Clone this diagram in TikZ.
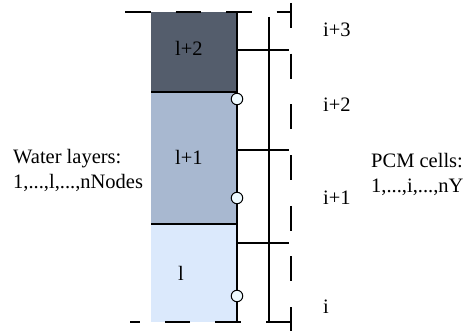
\documentclass[tikz,border=0pt]{standalone}
\usepackage{fontspec}
\setmainfont{Liberation Serif}
\definecolor{cdark}{RGB}{84,93,108}
\definecolor{cmid}{RGB}{168,184,208}
\definecolor{clight}{RGB}{219,233,252}
\definecolor{cport}{RGB}{238,250,255}
\begin{document}
\begin{tikzpicture}[x=1pt,y=-1pt,
  font=\fontsize{20.5}{25}\selectfont,
  layer/.style={draw=none, minimum width=86pt, inner sep=0pt, outer sep=0pt, anchor=north west},
  lbl/.style={inner sep=0pt, anchor=base west},
  blk/.style={inner sep=0pt, anchor=west, align=left},
  sepline/.style={line width=1.5pt},
  wall/.style={line width=2.2pt},
  port/.style={circle, draw, line width=1pt, fill=cport, minimum size=11.5pt, inner sep=0pt},
  thinline/.style={line width=1.1pt},
  bound/.style={line width=2pt, dash pattern=on 25.5pt off 25pt},
  vbound/.style={line width=2.2pt, dash pattern=on 25pt off 25.7pt}]
\useasboundingbox (0,0) rectangle (466,331);
% water layers
\node[layer, fill=cdark, minimum height=79.5pt] (L2) at (151,12.5) {};
\node[layer, fill=cmid, minimum height=132pt] (L1) at (151,92) {};
\node[layer, fill=clight, minimum height=97.5pt] (L0) at (151,224) {};
\node[lbl] (t2) at (175,56) {l+2};
\node[lbl] (t1) at (175,165) {l+1};
\node[lbl] (t0) at (178,280) {l};
\draw[sepline] (L2.south west) -- (L2.south east);
\draw[sepline] (L1.south west) -- (L1.south east);
% coordinates
\coordinate (wtop) at (237,12.5);
\coordinate (wbot) at (237,322);
\coordinate (ptop) at (269,17);
\coordinate (pbot) at (269,322);
\coordinate (dtl) at (125,12.5);
\coordinate (dtr) at (291,12.5);
\coordinate (dbl) at (130,322);
\coordinate (dbr) at (291,322);
\coordinate (vt) at (291,3);
\coordinate (vb) at (291,331);
\coordinate (h3a) at (237,50);  \coordinate (h3b) at (289,50);
\coordinate (h2a) at (237,150); \coordinate (h2b) at (289,150);
\coordinate (h1a) at (237,243); \coordinate (h1b) at (289,243);
% lines
\draw[thinline] (ptop) -- (pbot);
\draw[thinline] (h3a) -- (h3b);
\draw[thinline] (h2a) -- (h2b);
\draw[thinline] (h1a) -- (h1b);
\draw[bound] (dtl) -- (dtr);
\draw[bound] (dbr) -- (dbl);
\draw[vbound] (vt) -- (vb);
\draw[wall] (wtop) -- (wbot);
% ports
\node[port] (p2) at (237,99) {};
\node[port] (p1) at (237,198) {};
\node[port] (p0) at (237,296) {};
% labels
\node[lbl] (i3) at (323,37) {i+3};
\node[lbl] (i2) at (323,112) {i+2};
\node[lbl] (i1) at (323,205) {i+1};
\node[lbl] (i0) at (323,313) {i};
\node[blk] (water) at (13,170) {Water layers:\\1,...,l,...,nNodes};
\node[blk] (pcm) at (371,174) {PCM cells:\\1,...,i,...,nY};
\end{tikzpicture}
\end{document}
